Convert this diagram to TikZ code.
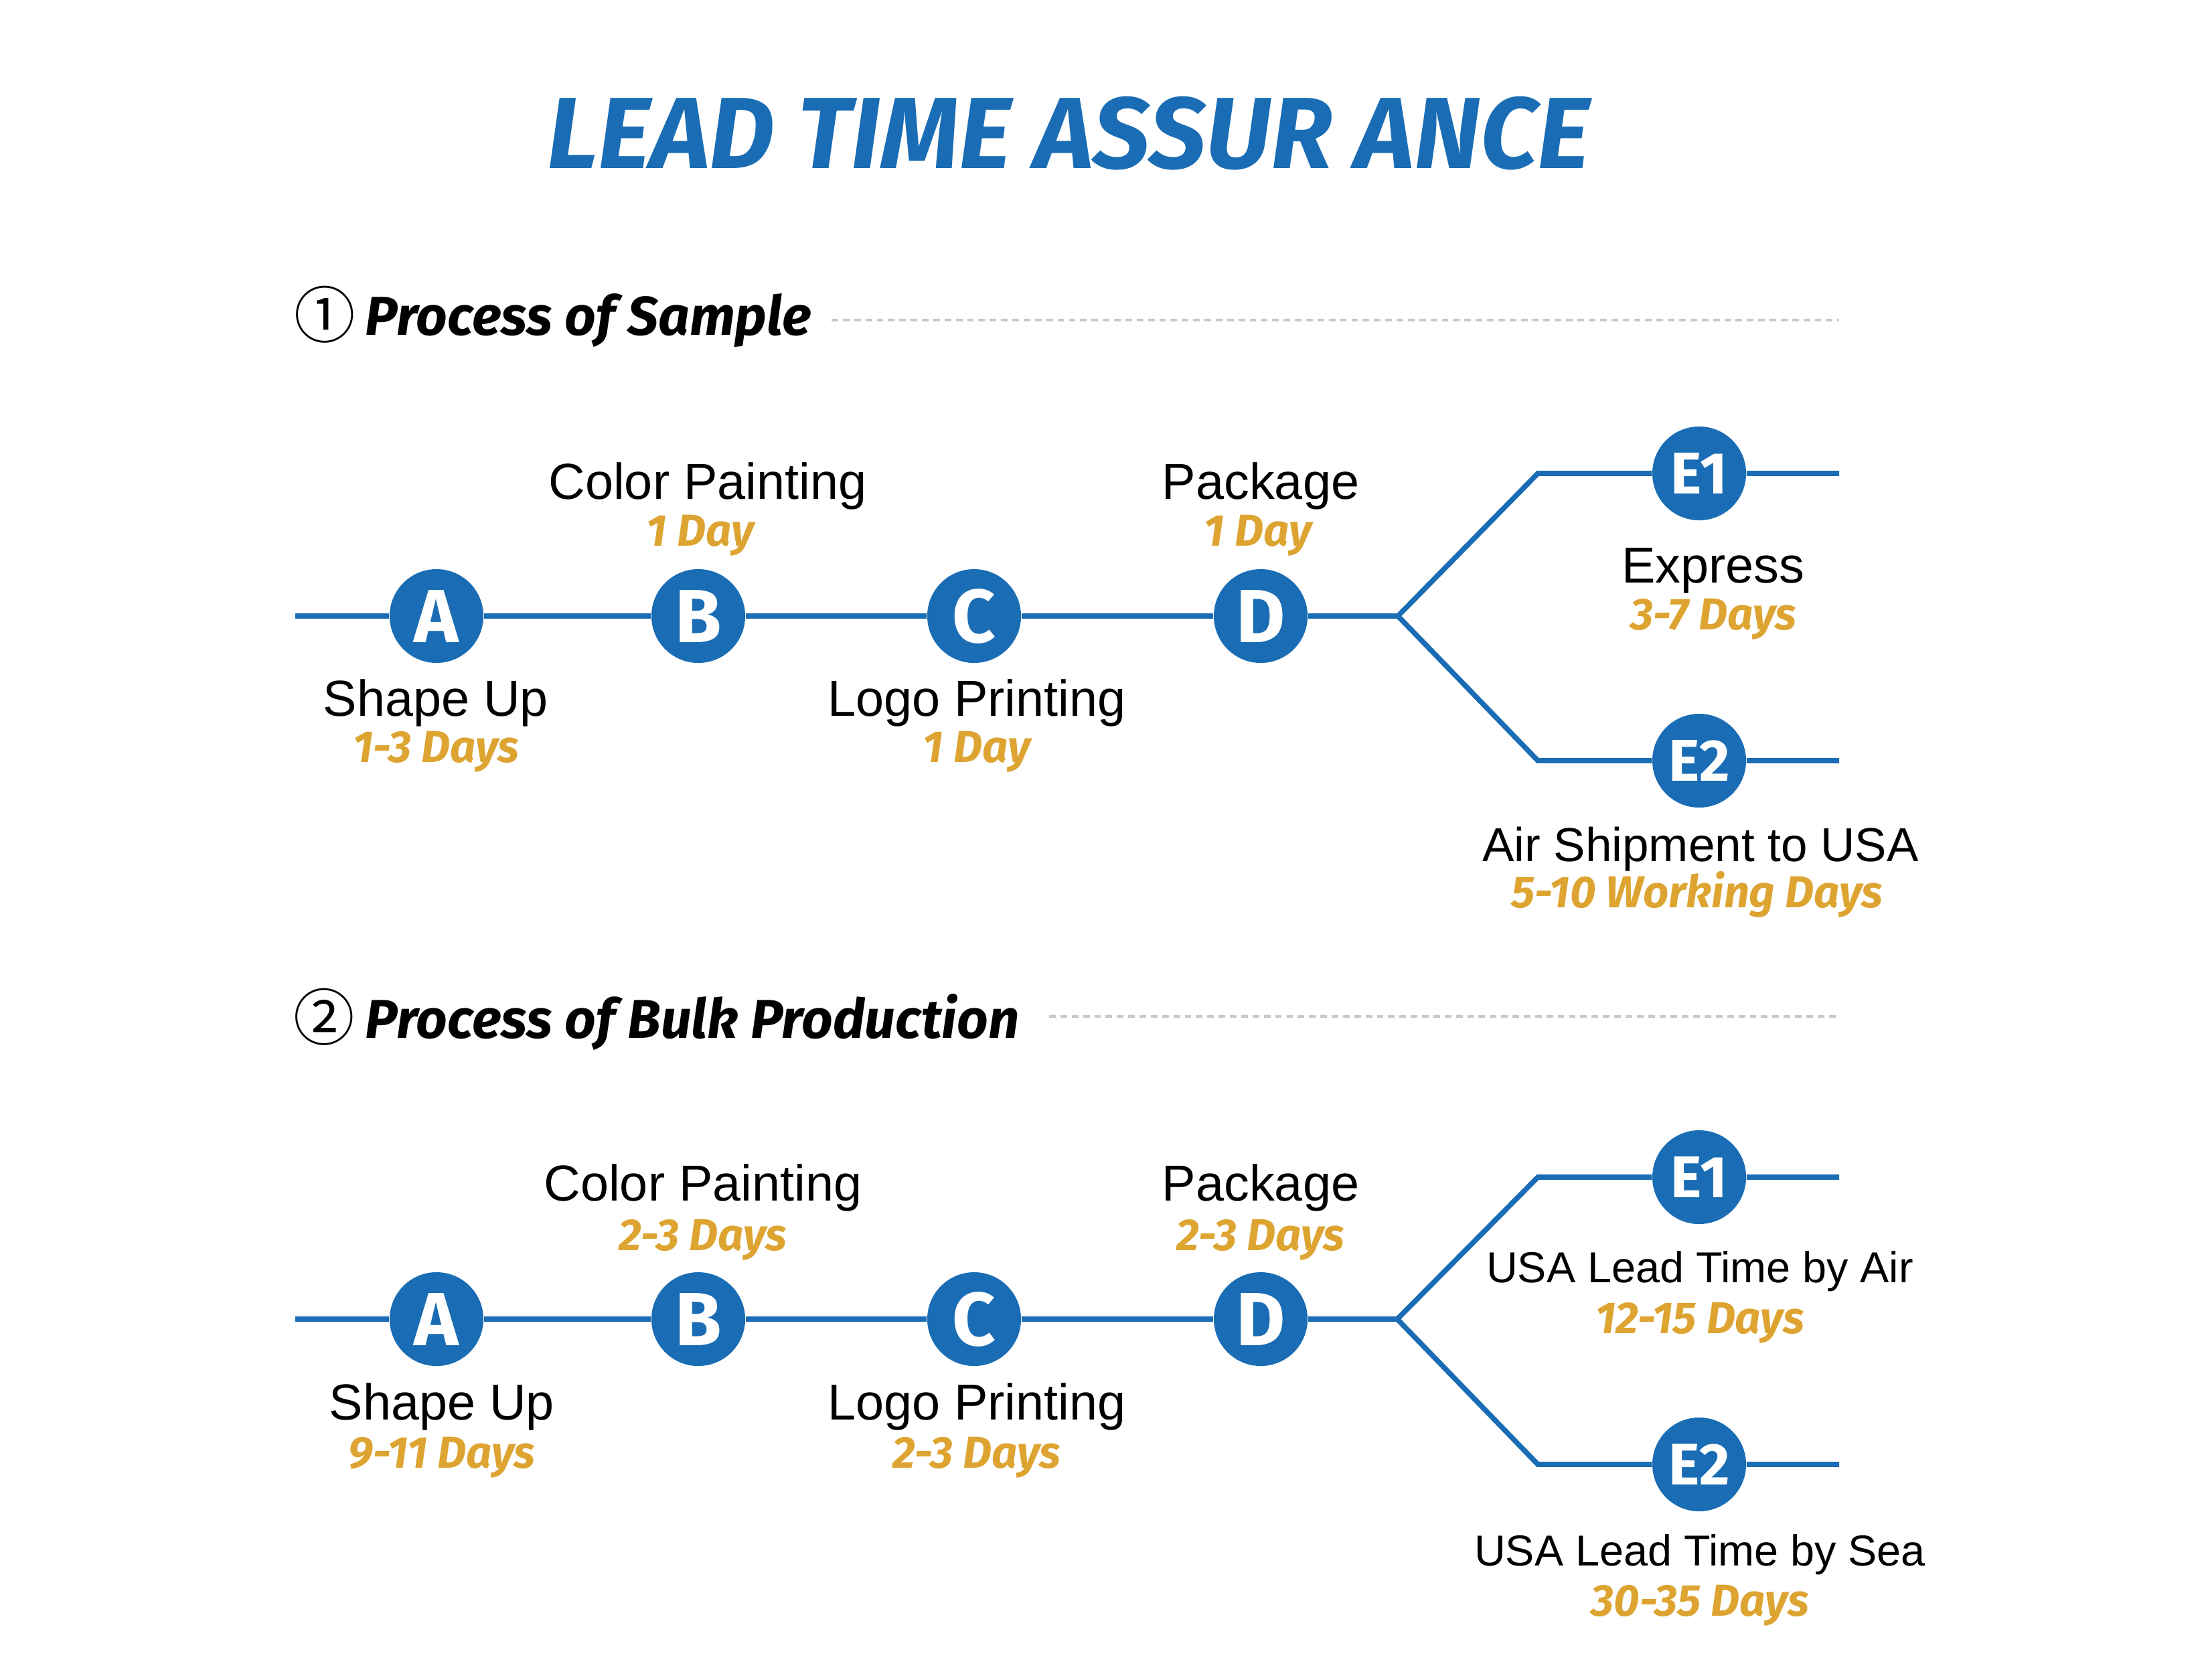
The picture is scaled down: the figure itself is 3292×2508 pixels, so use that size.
\documentclass[tikz,border=0pt]{standalone}
\usepackage{fontspec}
\setmainfont{Liberation Sans}
\newfontfamily\fira{Fira Sans}
\newfontfamily\cjk{Noto Sans CJK SC}
\usetikzlibrary{positioning}
\definecolor{leadblue}{HTML}{1A6DB4}
\definecolor{dayorange}{HTML}{DDA431}
\definecolor{rulegray}{HTML}{C8C8C8}

\begin{document}
\begin{tikzpicture}[x=0.01cm, y=-0.01cm,
  flow/.style={draw=leadblue, line width=2.2pt},
  rule/.style={draw=rulegray, line width=1.1pt, dash pattern=on 2.8pt off 2pt},
  stage/.style={circle, fill=leadblue, text=white, minimum size=1.4cm, inner sep=0pt, font=\fira\bfseries\fontsize{32}{32}\selectfont},
  hop/.style={stage, font=\fira\bfseries\fontsize{25}{25}\selectfont},
  lbl/.style={anchor=base, inner sep=0pt, font=\fontsize{21.5}{24}\selectfont},
  days/.style={anchor=base, inner sep=0pt, text=dayorange, font=\fira\bfseries\itshape\fontsize{19}{21}\selectfont},
  head/.style={anchor=base west, inner sep=0pt, font=\fira\bfseries\itshape\fontsize{23.2}{26}\selectfont},
  num/.style={inner sep=0pt, font=\cjk\fontsize{26}{26}\selectfont}]
\useasboundingbox (0,0) rectangle (3292,2508);

\node[anchor=base, inner sep=0pt, text=leadblue, font=\fira\bfseries\itshape\fontsize{43}{47}\selectfont] (title) at (1596,251) {LEAD TIME ASSUR ANCE};

% process of sample
\node[num] (n1) at (485,470) {①};
\node[head] (hdr1) at (545,500) {Process of Sample};
\coordinate (rule1s) at (1242,478); \coordinate (rule1e) at (2747,478);
\draw[rule] (rule1s) -- (rule1e);

\coordinate (s1) at (441,920); \coordinate (fork1) at (2088,920);
\coordinate (up1) at (2297,707); \coordinate (dn1) at (2297,1136);
\coordinate (eu1) at (2747,707); \coordinate (ed1) at (2747,1136);
\node[stage] (A1) at (652,920) {A};
\node[stage] (B1) at (1043,920) {B};
\node[stage] (C1) at (1455,920) {C};
\node[stage] (D1) at (1883,920) {D};
\node[hop] (Ea1) at (2538,707) {E1};
\node[hop] (Eb1) at (2538,1136) {E2};
\draw[flow] (s1) -- (A1) -- (B1) -- (C1) -- (D1) -- (fork1);
\draw[flow] (fork1) -- (up1) -- (Ea1) -- (eu1);
\draw[flow] (fork1) -- (dn1) -- (Eb1) -- (ed1);

\node[lbl] (tA1) at (651,1069) {Shape Up};      \node[days] (dA1) at (651,1138) {1-3 Days};
\node[lbl] (tB1) at (1057,745) {Color Painting}; \node[days] (dB1) at (1046,815) {1 Day};
\node[lbl] (tC1) at (1459,1069) {Logo Printing}; \node[days] (dC1) at (1459,1138) {1 Day};
\node[lbl] (tD1) at (1883,745) {Package};        \node[days] (dD1) at (1879,815) {1 Day};
\node[lbl] (tEa1) at (2559,870) {Express};       \node[days] (dEa1) at (2559,940) {3-7 Days};
\node[lbl, font=\fontsize{20.2}{24}\selectfont] (tEb1) at (2540,1286) {Air Shipment to USA};
\node[days] (dEb1) at (2535,1355) {5-10 Working Days};

% process of bulk production
\node[num] (n2) at (484,1519) {②};
\node[head] (hdr2) at (545,1550) {Process of Bulk Production};
\coordinate (rule2s) at (1567,1518); \coordinate (rule2e) at (2747,1518);
\draw[rule] (rule2s) -- (rule2e);

\coordinate (s2) at (441,1970); \coordinate (fork2) at (2087,1970);
\coordinate (up2) at (2297,1758); \coordinate (dn2) at (2297,2187);
\coordinate (eu2) at (2747,1758); \coordinate (ed2) at (2747,2187);
\node[stage] (A2) at (652,1970) {A};
\node[stage] (B2) at (1043,1970) {B};
\node[stage] (C2) at (1455,1970) {C};
\node[stage] (D2) at (1883,1970) {D};
\node[hop] (Ea2) at (2538,1758) {E1};
\node[hop] (Eb2) at (2538,2187) {E2};
\draw[flow] (s2) -- (A2) -- (B2) -- (C2) -- (D2) -- (fork2);
\draw[flow] (fork2) -- (up2) -- (Ea2) -- (eu2);
\draw[flow] (fork2) -- (dn2) -- (Eb2) -- (ed2);

\node[lbl] (tA2) at (660,2120) {Shape Up};       \node[days] (dA2) at (660,2192) {9-11 Days};
\node[lbl] (tB2) at (1050,1793) {Color Painting}; \node[days] (dB2) at (1050,1867) {2-3 Days};
\node[lbl] (tC2) at (1459,2120) {Logo Printing};  \node[days] (dC2) at (1459,2192) {2-3 Days};
\node[lbl] (tD2) at (1883,1793) {Package};        \node[days] (dD2) at (1883,1867) {2-3 Days};
\node[lbl, font=\fontsize{18.4}{22}\selectfont] (tEa2) at (2539,1915) {USA Lead Time by Air};
\node[days] (dEa2) at (2539,1991) {12-15 Days};
\node[lbl, font=\fontsize{18.4}{22}\selectfont] (tEb2) at (2539,2338) {USA Lead Time by Sea};
\node[days] (dEb2) at (2539,2413) {30-35 Days};
\end{tikzpicture}
\end{document}
